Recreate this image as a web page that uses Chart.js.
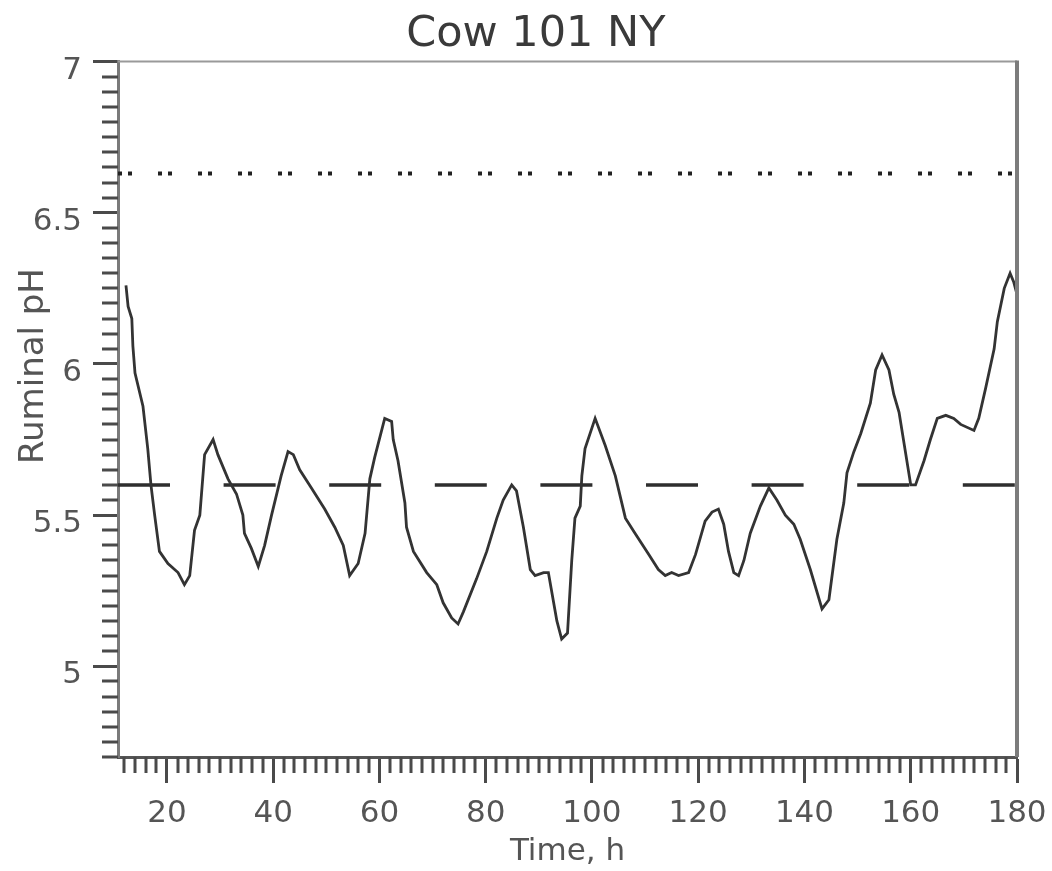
<!DOCTYPE html>
<html><head><meta charset="utf-8">
<script src="https://cdn.jsdelivr.net/npm/chart.js@4.4.0/dist/chart.umd.min.js"></script>
<style>html,body{margin:0;padding:0;background:#fff;overflow:hidden}</style>
</head><body>
<canvas id="c" width="1052" height="871"></canvas>
<script>
const chartTitle = 'Cow 101 NY';
const xAxisTitle = 'Time, h';
const yAxisTitle = 'Ruminal pH';

const timeHours = [12.3,12.7,13.4,13.6,14.0,15.5,16.4,17.0,17.7,18.6,
  20.2,22.1,23.3,24.3,25.2,26.2,27.1,28.7,29.6,31.5,
  33.1,34.3,34.6,35.9,37.2,38.4,39.7,41.5,42.8,43.8,
  45.0,47.2,49.7,51.6,53.2,54.4,56.0,57.3,58.2,59.1,
  61.0,62.3,62.6,63.5,64.8,65.1,66.4,68.9,70.8,72.0,
  73.6,74.8,75.8,78.3,80.2,82.1,83.3,84.9,85.8,87.1,
  88.4,89.3,90.9,91.8,92.4,93.4,94.3,95.4,96.2,96.8,
  97.8,98.1,98.7,100.6,102.5,104.4,106.3,108.1,110.7,112.5,
  113.8,115.0,116.3,118.2,119.5,121.3,122.6,123.8,124.8,125.7,
  126.7,127.6,128.6,129.8,131.7,133.3,134.8,136.4,138.0,139.2,
  141.1,143.3,144.6,146.1,147.4,148.0,149.3,150.6,152.4,153.4,
  154.6,155.9,156.8,157.8,160.0,160.9,162.5,163.7,165.0,166.6,
  168.1,169.4,171.9,172.8,174.1,175.7,176.3,177.6,178.7,179.4,180];

const ruminalPH = [6.26,6.19,6.15,6.06,5.97,5.86,5.72,5.60,5.50,5.38,
  5.34,5.31,5.27,5.30,5.45,5.50,5.70,5.75,5.70,5.62,
  5.57,5.50,5.44,5.39,5.33,5.40,5.50,5.63,5.71,5.70,
  5.65,5.59,5.52,5.46,5.40,5.30,5.34,5.44,5.62,5.69,
  5.82,5.81,5.75,5.68,5.54,5.46,5.38,5.31,5.27,5.21,
  5.16,5.14,5.18,5.29,5.38,5.49,5.55,5.60,5.58,5.46,
  5.32,5.30,5.31,5.31,5.25,5.15,5.09,5.11,5.35,5.49,
  5.53,5.63,5.72,5.82,5.73,5.63,5.49,5.44,5.37,5.32,
  5.30,5.31,5.30,5.31,5.37,5.48,5.51,5.52,5.47,5.38,
  5.31,5.30,5.35,5.44,5.53,5.59,5.55,5.50,5.47,5.42,
  5.32,5.19,5.22,5.42,5.54,5.64,5.71,5.77,5.87,5.98,
  6.03,5.98,5.90,5.84,5.60,5.60,5.68,5.75,5.82,5.83,
  5.82,5.80,5.78,5.82,5.92,6.05,6.14,6.25,6.30,6.27,6.23];

const thresholdLow = 5.6;
const thresholdHigh = 6.63;

const xTickValues = [20, 40, 60, 80, 100, 120, 140, 160, 180];
const yTickValues = [5, 5.5, 6, 6.5, 7];
const xRange = [10.8, 180];
const yRange = [4.7, 7];
const xMinorStep = 2;
const yMinorStep = 0.05;

const FONT = 'DejaVu Sans';

const framePlugin = {
  id: 'frame',
  afterDraw(chart) {
    const { ctx, chartArea: a, scales } = chart;
    const xs = scales.x, ys = scales.y;
    ctx.save();
    ctx.strokeStyle = '#9a9a9a';
    ctx.lineWidth = 2;
    ctx.beginPath();
    ctx.moveTo(a.left, a.top); ctx.lineTo(a.right, a.top);
    ctx.stroke();
    ctx.strokeStyle = '#7c7c7c';
    ctx.lineWidth = 4;
    ctx.beginPath();
    ctx.moveTo(a.right, a.top - 1); ctx.lineTo(a.right, a.bottom);
    ctx.stroke();
    ctx.strokeStyle = '#4a4a4a';
    ctx.lineWidth = 3;
    ctx.beginPath();
    const yStart = Math.ceil(yRange[0] / yMinorStep - 1e-9);
    const yEnd = Math.floor(yRange[1] / yMinorStep + 1e-9);
    for (let i = yStart; i <= yEnd; i++) {
      const v = i * yMinorStep;
      if (yTickValues.some(t => Math.abs(t - v) < 1e-6)) continue;
      const py = Math.round(ys.getPixelForValue(v));
      ctx.moveTo(a.left - 16, py); ctx.lineTo(a.left, py);
    }
    const xStart = Math.ceil(xRange[0] / xMinorStep - 1e-9);
    const xEnd = Math.floor(xRange[1] / xMinorStep + 1e-9);
    for (let i = xStart; i <= xEnd; i++) {
      const v = i * xMinorStep;
      if (xTickValues.includes(v)) continue;
      const px = Math.round(xs.getPixelForValue(v));
      ctx.moveTo(px, a.bottom); ctx.lineTo(px, a.bottom + 16);
    }
    ctx.stroke();
    ctx.restore();
  }
};

const mainData = timeHours.map((t, i) => ({ x: t, y: ruminalPH[i] }));
const lowLine = [{ x: xRange[0], y: thresholdLow }, { x: xRange[1], y: thresholdLow }];
const highLine = [{ x: xRange[0], y: thresholdHigh }, { x: xRange[1], y: thresholdHigh }];

new Chart(document.getElementById('c'), {
  type: 'line',
  data: {
    datasets: [
      { data: mainData, borderColor: '#333333', borderWidth: 2.8, pointRadius: 0, tension: 0, fill: false },
      { data: lowLine, borderColor: '#2e2e2e', borderWidth: 3.5, borderDash: [52, 53.6], pointRadius: 0, fill: false },
      { data: highLine, borderColor: '#222222', borderWidth: 4, borderDash: [4, 6, 4, 26], pointRadius: 0, fill: false }
    ]
  },
  options: {
    responsive: false,
    animation: false,
    devicePixelRatio: 1,
    layout: { padding: { left: 0, right: 35, top: 0, bottom: 0 } },
    plugins: {
      legend: { display: false },
      tooltip: { enabled: false },
      title: {
        display: true,
        text: '    ' + chartTitle,
        color: '#3a3a3a',
        font: { family: FONT, size: 43, weight: 'normal' },
        padding: { top: 9, bottom: 1 }
      }
    },
    scales: {
      x: {
        type: 'linear',
        min: xRange[0], max: xRange[1],
        afterBuildTicks: s => { s.ticks = xTickValues.map(v => ({ value: v })); },
        afterFit: s => { s.height = 114; s.paddingRight = 0; s.paddingLeft = 0; },
        border: { color: '#555555', width: 3 },
        grid: { drawOnChartArea: false, tickLength: 26, tickWidth: 3, tickColor: '#4a4a4a' },
        ticks: { color: '#555555', font: { family: FONT, size: 31 }, padding: 12, maxRotation: 0, autoSkip: false,
                 callback: v => String(v) },
        title: { display: true, text: xAxisTitle, color: '#555555', font: { family: FONT, size: 31 }, padding: { top: 0, bottom: 0 } }
      },
      y: {
        type: 'linear',
        min: yRange[0], max: yRange[1],
        afterBuildTicks: s => { s.ticks = yTickValues.map(v => ({ value: v })); },
        afterFit: s => { s.width = 118; },
        border: { color: '#7a7a7a', width: 3 },
        grid: { drawOnChartArea: false, tickLength: 25, tickWidth: 3, tickColor: '#4a4a4a' },
        ticks: { color: '#555555', font: { family: FONT, size: 31 }, padding: 11, labelOffset: 9, autoSkip: false,
                 callback: v => String(Number(v)) },
        title: { display: true, text: '        ' + yAxisTitle, color: '#555555', font: { family: FONT, size: 34 }, padding: { top: 14, bottom: 0 } }
      }
    }
  },
  plugins: [framePlugin]
});
</script>
</body></html>
